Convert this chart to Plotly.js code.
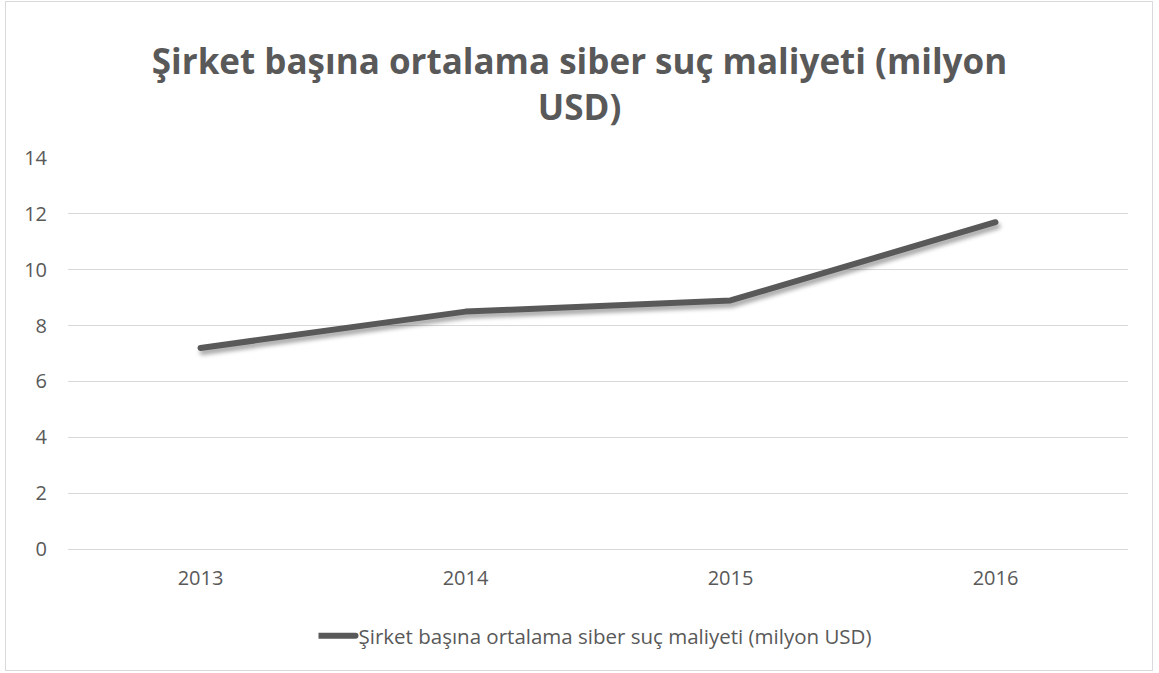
<!DOCTYPE html>
<html><head><meta charset="utf-8">
<script src="https://cdn.plot.ly/plotly-3.0.1.min.js"></script>
<style>
html,body{margin:0;padding:0;background:#fff;}
#wrap{position:relative;width:1159px;height:673px;}
#chart{position:absolute;left:0;top:0;width:1159px;height:673px;}
#frame{position:absolute;left:5px;top:1px;width:1148px;height:670px;border:1px solid #d9d9d9;box-sizing:border-box;pointer-events:none;}
.scatterlayer .js-line{filter:drop-shadow(2px 4px 2px rgba(0,0,0,0.35));stroke-linecap:round;stroke-linejoin:round;}
#chart .legend .legendlines path, #chart .legend .legendpoints path, #chart .legend path.js-line{stroke-linecap:round !important;d:path("M-19 0 h56") !important;}
</style></head>
<body>
<div id="wrap"><div id="chart"></div><div id="frame"></div></div>
<script>
const years = ["2013", "2014", "2015", "2016"];
const costs = [7.2, 8.5, 8.9, 11.7];
const seriesName = "Şirket başına ortalama siber suç maliyeti (milyon USD)";
const chartTitle = "Şirket başına ortalama siber suç maliyeti (milyon<br>USD)";
const yTicks = [0, 2, 4, 6, 8, 10, 12, 14];

const trace = {
  x: years, y: costs, name: seriesName, type: "scatter", mode: "lines",
  line: {color: "#595959", width: 6},
  showlegend: true
};
const layout = {
  width: 1159, height: 673,
  margin: {l: 68, r: 31, t: 158, b: 124},
  paper_bgcolor: "#fff", plot_bgcolor: "#fff",
  font: {family: "Open Sans, sans-serif", color: "#595959", size: 20},
  title: {text: chartTitle, x: 0.5, xanchor: "center", y: 0.89, yanchor: "middle",
          font: {family: "Open Sans, sans-serif", size: 35, color: "#595959", weight: "bold"}},
  xaxis: {type: "category", showgrid: false, zeroline: false, showline: false, ticks: "",
          ticklabelstandoff: 15, tickfont: {size: 20, color: "#595959"}, range: [-0.5, 3.5]},
  yaxis: {range: [0, 14], tickvals: yTicks, showgrid: true, gridcolor: "#d9d9d9", gridwidth: 1,
          zeroline: true, zerolinecolor: "#d9d9d9", zerolinewidth: 1, showline: false, ticks: "",
          ticklabelstandoff: 20, tickfont: {size: 20, color: "#595959"}},
  legend: {orientation: "h", x: 0.5, xanchor: "center", y: -0.222, yanchor: "middle",
           font: {size: 20.5, color: "#595959"}}
};
Plotly.newPlot("chart", [trace], layout, {displayModeBar: false, staticPlot: true});
</script>
</body></html>
